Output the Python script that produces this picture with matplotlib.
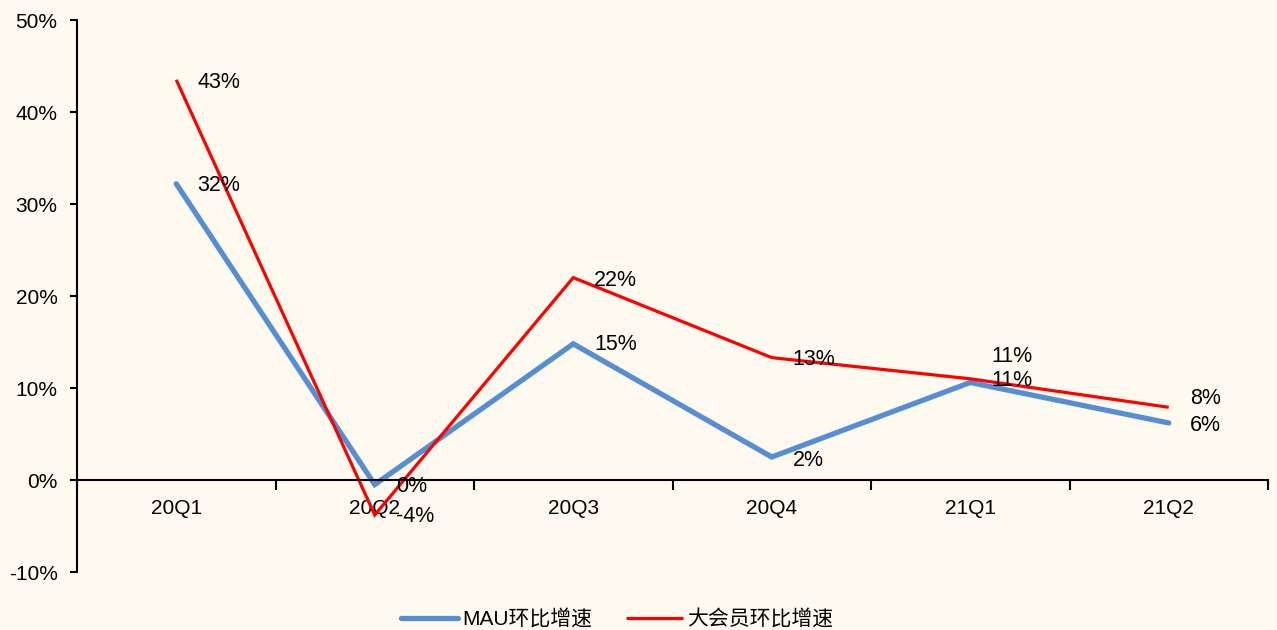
import matplotlib.pyplot as plt
from matplotlib.ticker import FixedLocator, FuncFormatter

plt.rcParams['font.family'] = ['Liberation Sans', 'Noto Sans CJK SC', 'DejaVu Sans']

# data
quarters = ['20Q1', '20Q2', '20Q3', '20Q4', '21Q1', '21Q2']
mau_growth = [32.2, -0.5, 14.8, 2.5, 10.6, 6.2]
vip_growth = [43.5, -3.8, 22.0, 13.3, 11.0, 7.9]
mau_labels = ['32%', '0%', '15%', '2%', '11%', '6%']
vip_labels = ['43%', '-4%', '22%', '13%', '11%', '8%']
series_names = ['MAU环比增速', '大会员环比增速']

bg = '#FEFAF0'
blue = '#558ED5'
red = '#FF0000'

fig = plt.figure(figsize=(12.77, 6.30), dpi=100, facecolor=bg)
ax = fig.add_axes([77 / 1277, 1 - 572 / 630, (1268 - 77) / 1277, (572 - 20) / 630])
ax.set_facecolor(bg)

x = list(range(len(quarters)))
ax.plot(x, mau_growth, color=blue, lw=3.8, solid_capstyle='round',
        solid_joinstyle='miter', label=series_names[0])
ax.plot(x, vip_growth, color=red, lw=2.3, solid_capstyle='butt',
        solid_joinstyle='miter', label=series_names[1])

# data labels, placed right of each point (pixel offsets)
vip_dy = [-3, -2, -3, -2, 22, 9]
mau_dy = [-2, -2, -1, -3, 2, -3]
for i in x:
    ax.annotate(vip_labels[i], (i, vip_growth[i]), xytext=(21, vip_dy[i]),
                textcoords='offset pixels', ha='left', va='center', fontsize=15.5)
    ax.annotate(mau_labels[i], (i, mau_growth[i]), xytext=(21, mau_dy[i]),
                textcoords='offset pixels', ha='left', va='center', fontsize=15.5)

ax.set_xlim(-0.5, len(quarters) - 0.5)
ax.set_ylim(-10, 50)
ax.set_yticks(range(-10, 51, 10))
ax.yaxis.set_major_formatter(FuncFormatter(lambda v, p: f'{v:.0f}%'))
ax.tick_params(axis='y', direction='out', length=5, width=1.5, pad=9,
               labelsize=15)

# category labels with no ticks, boundary ticks as minor ticks
ax.set_xticks(x)
ax.set_xticklabels(quarters)
ax.xaxis.set_minor_locator(FixedLocator([i - 0.5 for i in range(len(quarters) + 1)]))
ax.tick_params(axis='x', which='major', length=0, pad=14, labelsize=15)
ax.tick_params(axis='x', which='minor', direction='out', length=7, width=1.5)

for s in ['top', 'right']:
    ax.spines[s].set_visible(False)
ax.spines['bottom'].set_position(('data', 0))
ax.spines['bottom'].set_linewidth(1.5)
ax.spines['left'].set_linewidth(1.5)

fig.legend(loc='center', bbox_to_anchor=(617 / 1277, 1 - 619 / 630),
           ncol=2, frameon=False, handlelength=2.75,
           handletextpad=0.2, columnspacing=1.6,
           prop={'family': ['Liberation Sans', 'Noto Sans CJK SC'], 'size': 15})

fig.savefig('out.png', dpi=100, facecolor=bg)
